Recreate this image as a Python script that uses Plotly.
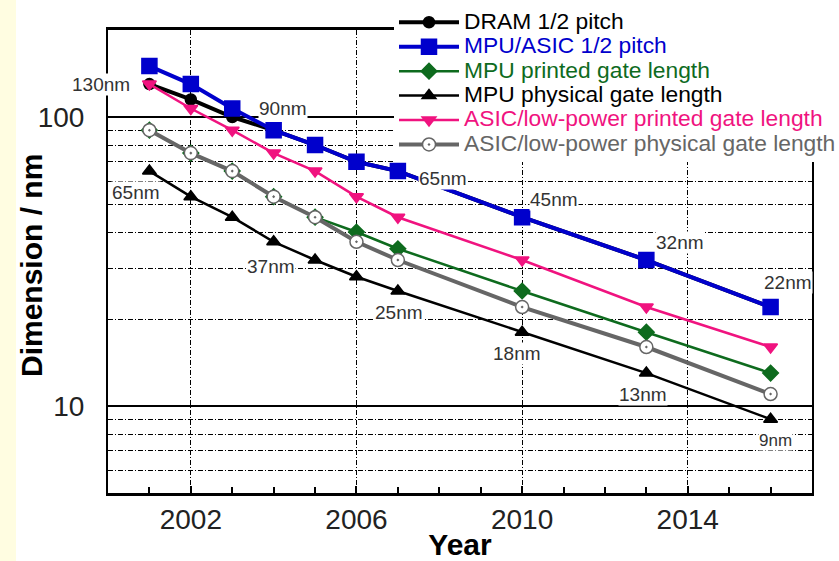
import numpy as np
import plotly.graph_objects as go

years = [2001, 2002, 2003, 2004, 2005, 2006, 2007, 2010, 2013, 2016]
dram_half_pitch = [130, 115, 100, 90, 80, 70, 65, 45, 32, 22]
mpu_asic_half_pitch = [150, 130, 107, 90, 80, 70, 65, 45, 32, 22]
mpu_printed_gate = [90, 75, 65, 53, 45, 40, 35, 25, 18, 13]
mpu_physical_gate = [65, 53, 45, 37, 32, 28, 25, 18, 13, 9]
asic_lp_printed_gate = [130, 107, 90, 75, 65, 53, 45, 32, 22, 16]
asic_lp_physical_gate = [90, 75, 65, 53, 45, 37, 32, 22, 16, 11]

series_names = ["DRAM 1/2 pitch", "MPU/ASIC 1/2 pitch", "MPU printed gate length",
                "MPU physical gate length", "ASIC/low-power printed gate length",
                "ASIC/low-power physical gate length"]

x_tick_vals = [2002, 2006, 2010, 2014]
y_tick_vals = [10, 100]
y_tick_text = ["10", "100"]
y_minor_grid = [6, 7, 8, 9, 20, 30, 40, 50, 60, 70, 80, 90]

# node labels: (text, year position, value position)
label_text = ["130nm", "90nm", "65nm", "37nm", "65nm", "45nm", "32nm", "22nm", "25nm", "18nm", "13nm", "9nm"]
label_x = [2000.0, 2004.23, 2000.68, 2003.94, 2008.09, 2010.77, 2013.81, 2016.42, 2007.03, 2009.88, 2012.92, 2016.11]
label_y = [130, 106.6, 54.6, 30.3, 61.5, 52, 36.9, 26.7, 21.0, 15.2, 11.0, 7.62]

FONT = "Liberation Sans, Arial, sans-serif"

styles = [
    dict(color="black", width=4, symbol="circle", size=11, mcolor="black", mline="black", txt="black"),
    dict(color="#0000CC", width=4, symbol="square", size=15, mcolor="#0000CC", mline="#0000CC", txt="#0000CC"),
    dict(color="#0E6B1E", width=2.5, symbol="diamond", size=12, mcolor="#0E6B1E", mline="#0E6B1E", txt="#0E6B1E"),
    dict(color="black", width=2.5, symbol="triangle-up", size=12, mcolor="black", mline="black", txt="black"),
    dict(color="#F0137F", width=2.5, symbol="triangle-down", size=12, mcolor="#F0137F", mline="#F0137F", txt="#F0137F"),
    dict(color="#666666", width=4, symbol="circle-dot", size=13, mcolor="white", mline="#666666", txt="#666666"),
]
data = [dram_half_pitch, mpu_asic_half_pitch, mpu_printed_gate, mpu_physical_gate,
        asic_lp_printed_gate, asic_lp_physical_gate]

fig = go.Figure()
for name, vals, st in zip(series_names, data, styles):
    fig.add_trace(go.Scatter(
        x=years, y=vals, mode="lines+markers",
        name=f'<span style="color:{st["txt"]};font-size:22.8px">{name}</span>',
        line=dict(color=st["color"], width=st["width"]),
        marker=dict(symbol=st["symbol"], size=st["size"], color=st["mcolor"],
                    line=dict(color=st["mline"], width=1.5)),
        cliponaxis=False,
    ))

for t, lx, ly in zip(label_text, label_x, label_y):
    fig.add_annotation(
        x=lx, y=np.log10(ly), xref="x", yref="y", text=t, showarrow=False,
        xshift=-7 if t == "130nm" else 0,
        font=dict(family=FONT, size=17 if t == "9nm" else 19, color="#333333"),
        bgcolor="white", borderpad=0,
    )

L, R, T, B = 108, 27, 30, 68
W, H = 839, 561
pw, ph = W - L - R, H - T - B

# y-axis title
fig.add_annotation(
    xref="paper", yref="paper", x=(31 - L) / pw, y=1 - (266 - T) / ph,
    xanchor="center", yanchor="middle",
    text="<b>Dimension / nm</b>", textangle=-90, showarrow=False,
    font=dict(family=FONT, size=30, color="black"),
)

fig.add_shape(type="rect", xref="paper", yref="paper",
              x0=-L / pw, x1=(16 - L) / pw, y0=-B / ph, y1=1 + T / ph,
              fillcolor="#FFFDE1", line=dict(width=0), layer="below")

fig.update_layout(
    width=W, height=H,
    margin=dict(l=L, r=R, t=T, b=B, autoexpand=False),
    paper_bgcolor="white", plot_bgcolor="white",
    font=dict(family=FONT, color="black"),
    showlegend=True,
    legend=dict(x=(394 - L) / pw, y=1 + (T - 5) / ph, xanchor="left", yanchor="top",
                bgcolor="white", borderwidth=0, font=dict(size=16.5, family=FONT),
                itemwidth=60, tracegroupgap=0),
    xaxis=dict(range=[2000, 2017], tickmode="array", tickvals=x_tick_vals,
               ticktext=[str(v) for v in x_tick_vals],
               tickfont=dict(size=28, color="#222222"),
               showgrid=True, gridcolor="black", gridwidth=1, griddash="5px,2px,1px,2px",
               ticks="inside", ticklen=7, tickwidth=2, tickcolor="black",
               minor=dict(dtick=1, tick0=2000, ticks="inside", ticklen=6, tickwidth=2,
                          tickcolor="black", showgrid=False),
               showline=True, linecolor="black", linewidth=2.5, mirror=True,
               zeroline=False, automargin=False,
               title=dict(text="<b>Year</b>", font=dict(size=30), standoff=8)),
    yaxis=dict(type="log", range=[np.log10(5), np.log10(200)], tickmode="array",
               tickvals=y_tick_vals, ticktext=y_tick_text,
               tickfont=dict(size=28, color="#222222"),
               showgrid=True, gridcolor="black", gridwidth=1.5,
               minor=dict(tickvals=y_minor_grid, showgrid=True, gridcolor="black",
                          gridwidth=1, griddash="5px,2px,1px,2px", ticks=""),
               ticks="", ticklabelstandoff=16,
               showline=True, linecolor="black", linewidth=2, mirror=True,
               zeroline=False, automargin=False),
)

fig.write_html("out.html")
